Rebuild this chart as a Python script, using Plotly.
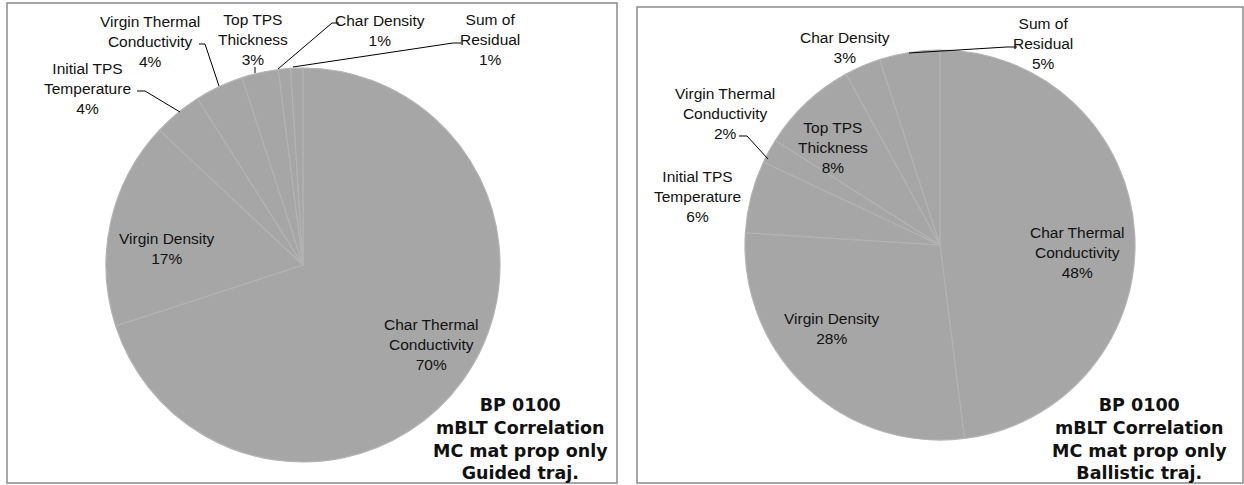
import plotly.graph_objects as go

W, H = 1244, 485

# ---- data ----
categories_guided = ["Char Thermal Conductivity", "Virgin Density", "Initial TPS Temperature",
                     "Virgin Thermal Conductivity", "Top TPS Thickness", "Char Density", "Sum of Residual"]
values_guided = [70, 17, 4, 4, 3, 1, 1]

categories_ballistic = ["Char Thermal Conductivity", "Virgin Density", "Initial TPS Temperature",
                        "Virgin Thermal Conductivity", "Top TPS Thickness", "Char Density", "Sum of Residual"]
values_ballistic = [48, 28, 6, 2, 8, 3, 5]

label_text_guided = ["Char Thermal<br>Conductivity", "Virgin Density", "Initial TPS<br>Temperature",
                     "Virgin Thermal<br>Conductivity", "Top TPS<br>Thickness", "Char Density", "Sum of<br>Residual"]
label_text_ballistic = label_text_guided

title_guided = "BP 0100<br>mBLT Correlation<br>MC mat prop only<br>Guided traj."
title_ballistic = "BP 0100<br>mBLT Correlation<br>MC mat prop only<br>Ballistic traj."

# ---- layout helpers (pixel -> paper) ----
def px(x):
    return x / W

def py(y):
    return 1 - y / H

def domain(cx, cy, r):
    return dict(x=[px(cx - r), px(cx + r)], y=[py(cy + r), py(cy - r)])

PIE_FILL = "#a6a6a6"
EDGE = "#b3b3b3"
FONT = "Liberation Sans, Arial, sans-serif"
BOLD_FONT = "DejaVu Sans, Liberation Sans, Arial, sans-serif"
TXT = "#111111"

fig = go.Figure()

for vals, cats, (cx, cy, r) in [
    (values_guided, categories_guided, (303, 265, 197)),
    (values_ballistic, categories_ballistic, (940, 245, 195)),
]:
    fig.add_trace(go.Pie(
        labels=cats, values=vals, sort=False, direction="clockwise", rotation=0,
        marker=dict(colors=[PIE_FILL] * len(vals), line=dict(color=EDGE, width=1.2)),
        textinfo="none", hoverinfo="label+percent", showlegend=False,
        domain=domain(cx, cy, r),
    ))

annotations = []

def lab(text, x, y, size=15.5, bold=False):
    annotations.append(dict(
        text=("<b>%s</b>" % text) if bold else text, x=px(x), y=py(y), xref="paper", yref="paper",
        showarrow=False, xanchor="center", yanchor="middle", align="center",
        font=dict(family=BOLD_FONT if bold else FONT, size=size, color=TXT)))

def pct(i, vals):
    return "%d%%" % round(100 * vals[i] / sum(vals))

# guided label positions (px centers)
pos_guided = [(431, 344), (167, 249), (87, 88), (150, 41), (253, 39), (380, 30), (490, 39)]
for i, (x, y) in enumerate(pos_guided):
    lab(label_text_guided[i] + "<br>" + pct(i, values_guided), x, y)

pos_ballistic = [(1077, 252), (832, 328), (697, 196), (725, 113), (833, 147), (845, 48), (1043, 43)]
for i, (x, y) in enumerate(pos_ballistic):
    lab(label_text_ballistic[i] + "<br>" + pct(i, values_ballistic), x, y)

lab(title_guided, 520, 439, size=17.5, bold=True)
lab(title_ballistic, 1139, 439, size=17.5, bold=True)

shapes = []
# panel frames
for (x0, y0, x1, y1) in [(7, 3, 617, 483), (637, 7, 1243, 483)]:
    shapes.append(dict(type="rect", xref="paper", yref="paper", x0=px(x0), x1=px(x1), y0=py(y1), y1=py(y0),
                       line=dict(color="#8a8a8a", width=1.5), fillcolor="rgba(0,0,0,0)"))

# leader lines (px)
leaders = [
    [(137, 91), (145, 91), (180, 112)],
    [(199, 44), (205, 44), (219, 86)],
    [(255, 67), (255, 73)],
    [(278, 69), (332, 23), (339, 23)],
    [(293, 67), (453, 43), (461, 43)],
    [(739, 136), (747, 136), (768, 159)],
    [(909, 53), (1007, 47), (1017, 47)],
]
for pts in leaders:
    d = "M %f %f " % (px(pts[0][0]), py(pts[0][1])) + " ".join(
        "L %f %f" % (px(x), py(y)) for x, y in pts[1:])
    shapes.append(dict(type="path", xref="paper", yref="paper", path=d,
                       line=dict(color="#000000", width=1)))

fig.update_layout(
    width=W, height=H, margin=dict(l=0, r=0, t=0, b=0),
    paper_bgcolor="white", plot_bgcolor="white",
    annotations=annotations, shapes=shapes,
)

fig.write_html("out.html", config={"displayModeBar": False},
               post_script="document.body.style.margin='0';document.body.style.overflow='hidden';")
